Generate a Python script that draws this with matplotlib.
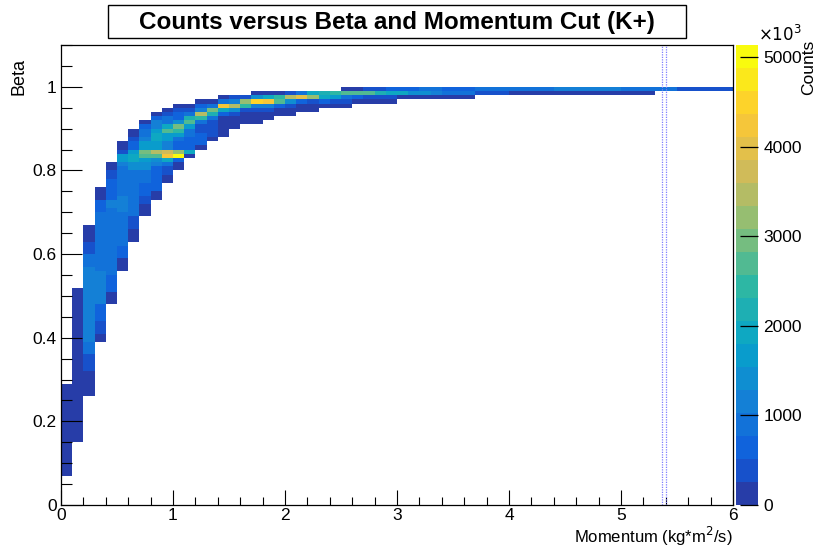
import numpy as np
import matplotlib
matplotlib.use("Agg")
import matplotlib.pyplot as plt
from matplotlib.colors import LinearSegmentedColormap, ListedColormap, BoundaryNorm
from matplotlib.ticker import MultipleLocator
from matplotlib.patches import Rectangle

plt.rcParams['font.family'] = ['Liberation Sans', 'DejaVu Sans']

########################
### histogram values ###
########################

p_edges = np.round(np.arange(0, 6.001, 0.1), 2)       # momentum bins
beta_edges = np.round(np.arange(0, 1.1001, 0.01), 3)  # beta bins

# one entry per momentum bin: (beta_lo, beta_hi, counts) runs
column_segments = [
    [(0.07, 0.29, 120)],
    [(0.15, 0.52, 160)],
    [(0.26, 0.32, 140), (0.32, 0.36, 400), (0.36, 0.39, 900), (0.39, 0.57, 1250), (0.57, 0.60, 900),
     (0.60, 0.63, 400), (0.63, 0.67, 140)],
    [(0.39, 0.41, 140), (0.41, 0.44, 400), (0.44, 0.48, 650), (0.48, 0.56, 1150), (0.56, 0.70, 900),
     (0.70, 0.73, 650), (0.73, 0.76, 140)],
    [(0.48, 0.51, 140), (0.51, 0.55, 650), (0.55, 0.71, 900), (0.71, 0.73, 1150), (0.73, 0.78, 650),
     (0.78, 0.80, 400), (0.80, 0.82, 140)],
    [(0.56, 0.59, 140), (0.59, 0.62, 650), (0.62, 0.70, 900), (0.70, 0.74, 1150), (0.74, 0.81, 900),
     (0.81, 0.82, 1150), (0.82, 0.84, 1650), (0.84, 0.85, 400), (0.85, 0.87, 140)],
    [(0.63, 0.66, 140), (0.66, 0.69, 400), (0.69, 0.80, 900), (0.80, 0.82, 1400), (0.82, 0.84, 1900),
     (0.84, 0.85, 1650), (0.85, 0.87, 650), (0.87, 0.88, 400), (0.88, 0.90, 140)],
    [(0.69, 0.72, 140), (0.72, 0.74, 400), (0.74, 0.77, 650), (0.77, 0.80, 900), (0.80, 0.82, 1400),
     (0.82, 0.83, 1650), (0.83, 0.84, 2700), (0.84, 0.85, 2950), (0.85, 0.87, 1650), (0.87, 0.88, 1150),
     (0.88, 0.90, 900), (0.90, 0.91, 650), (0.91, 0.92, 140)],
    [(0.73, 0.75, 140), (0.75, 0.81, 650), (0.81, 0.82, 1150), (0.82, 0.83, 1400), (0.83, 0.84, 2700),
     (0.84, 0.85, 3450), (0.85, 0.87, 1650), (0.87, 0.89, 1900), (0.89, 0.90, 1650), (0.90, 0.92, 1150),
     (0.92, 0.93, 650), (0.93, 0.94, 140)],
    [(0.77, 0.79, 140), (0.79, 0.81, 400), (0.81, 0.82, 900), (0.82, 0.83, 1900), (0.83, 0.84, 4250),
     (0.84, 0.85, 3700), (0.85, 0.87, 1150), (0.87, 0.89, 1650), (0.89, 0.90, 2700), (0.90, 0.91, 1900),
     (0.91, 0.93, 900), (0.93, 0.94, 400), (0.94, 0.95, 140)],
    [(0.80, 0.82, 140), (0.82, 0.83, 650), (0.83, 0.84, 5134), (0.84, 0.85, 3200), (0.85, 0.87, 650),
     (0.87, 0.88, 900), (0.88, 0.89, 1650), (0.89, 0.90, 2450), (0.90, 0.91, 2950), (0.91, 0.92, 1400),
     (0.92, 0.94, 650), (0.94, 0.95, 400), (0.95, 0.96, 140)],
    [(0.83, 0.84, 140), (0.84, 0.85, 1900), (0.85, 0.88, 650), (0.88, 0.90, 900), (0.90, 0.91, 1650),
     (0.91, 0.92, 2700), (0.92, 0.93, 2150), (0.93, 0.94, 900), (0.94, 0.95, 400), (0.95, 0.96, 140)],
    [(0.85, 0.86, 140), (0.86, 0.89, 650), (0.89, 0.91, 400), (0.91, 0.92, 900), (0.92, 0.93, 2450),
     (0.93, 0.94, 3450), (0.94, 0.95, 1150), (0.95, 0.96, 650), (0.96, 0.97, 140)],
    [(0.87, 0.88, 140), (0.88, 0.92, 400), (0.92, 0.93, 900), (0.93, 0.94, 2150), (0.94, 0.95, 2950),
     (0.95, 0.96, 900), (0.96, 0.97, 140)],
    [(0.88, 0.93, 140), (0.93, 0.94, 650), (0.94, 0.95, 1900), (0.95, 0.96, 4250), (0.96, 0.97, 900),
     (0.97, 0.98, 140)],
    [(0.90, 0.93, 140), (0.93, 0.94, 400), (0.94, 0.95, 1400), (0.95, 0.96, 3450), (0.96, 0.97, 1150),
     (0.97, 0.98, 400)],
    [(0.91, 0.94, 140), (0.94, 0.95, 400), (0.95, 0.96, 2450), (0.96, 0.97, 3200), (0.97, 0.98, 400)],
    [(0.91, 0.94, 140), (0.94, 0.95, 400), (0.95, 0.96, 1150), (0.96, 0.97, 4500), (0.97, 0.98, 1400),
     (0.98, 0.99, 140)],
    [(0.92, 0.94, 140), (0.94, 0.95, 400), (0.95, 0.96, 1150), (0.96, 0.97, 4250), (0.97, 0.98, 1900),
     (0.98, 0.99, 140)],
    [(0.93, 0.95, 140), (0.95, 0.96, 650), (0.96, 0.97, 2700), (0.97, 0.98, 2450), (0.98, 0.99, 140)],
    [(0.93, 0.95, 140), (0.95, 0.96, 400), (0.96, 0.97, 1400), (0.97, 0.98, 3450), (0.98, 0.99, 400)],
    [(0.94, 0.96, 140), (0.96, 0.97, 650), (0.97, 0.98, 3950), (0.98, 0.99, 900)],
    [(0.94, 0.96, 140), (0.96, 0.97, 400), (0.97, 0.98, 3200), (0.98, 0.99, 1900)],
    [(0.95, 0.96, 140), (0.96, 0.97, 650), (0.97, 0.98, 1900), (0.98, 0.99, 2150)],
    [(0.95, 0.96, 140), (0.96, 0.97, 400), (0.97, 0.98, 1650), (0.98, 0.99, 2450)],
    [(0.95, 0.96, 140), (0.96, 0.97, 400), (0.97, 0.98, 900), (0.98, 0.99, 2700), (0.99, 1.00, 140)],
    [(0.96, 0.97, 140), (0.97, 0.98, 650), (0.98, 0.99, 2700), (0.99, 1.00, 140)],
    [(0.96, 0.97, 140), (0.97, 0.98, 400), (0.98, 0.99, 2700), (0.99, 1.00, 400)],
    [(0.96, 0.97, 140), (0.97, 0.98, 400), (0.98, 0.99, 2150), (0.99, 1.00, 400)],
    [(0.96, 0.97, 140), (0.97, 0.98, 300), (0.98, 0.99, 1900), (0.99, 1.00, 650)],
    [(0.97, 0.98, 140), (0.98, 0.99, 1900), (0.99, 1.00, 650)],
    [(0.97, 0.98, 140), (0.98, 0.99, 1400), (0.99, 1.00, 650)],
    [(0.97, 0.98, 140), (0.98, 0.99, 1400), (0.99, 1.00, 900)],
    [(0.97, 0.98, 140), (0.98, 0.99, 1150), (0.99, 1.00, 900)],
    [(0.97, 0.98, 140), (0.98, 0.99, 900), (0.99, 1.00, 650)],
    [(0.97, 0.98, 140), (0.98, 0.99, 900), (0.99, 1.00, 650)],
    [(0.97, 0.98, 140), (0.98, 0.99, 900), (0.99, 1.00, 650)],
    [(0.98, 0.99, 400), (0.99, 1.00, 900)],
    [(0.98, 0.99, 400), (0.99, 1.00, 900)],
    [(0.98, 0.99, 400), (0.99, 1.00, 900)],
    [(0.98, 0.99, 140), (0.99, 1.00, 900)],
    [(0.98, 0.99, 140), (0.99, 1.00, 900)],
    [(0.98, 0.99, 140), (0.99, 1.00, 900)],
    [(0.98, 0.99, 140), (0.99, 1.00, 900)],
    [(0.98, 0.99, 140), (0.99, 1.00, 1150)],
    [(0.98, 0.99, 140), (0.99, 1.00, 1150)],
    [(0.98, 0.99, 140), (0.99, 1.00, 1150)],
    [(0.98, 0.99, 140), (0.99, 1.00, 1150)],
    [(0.98, 0.99, 140), (0.99, 1.00, 1150)],
    [(0.98, 0.99, 140), (0.99, 1.00, 1150)],
    [(0.98, 0.99, 140), (0.99, 1.00, 900)],
    [(0.98, 0.99, 140), (0.99, 1.00, 900)],
    [(0.98, 0.99, 140), (0.99, 1.00, 900)],
    [(0.99, 1.00, 900)],
    [(0.99, 1.00, 900)],
    [(0.99, 1.00, 400)],
    [(0.99, 1.00, 400)],
    [(0.99, 1.00, 400)],
    [(0.99, 1.00, 400)],
    [(0.99, 1.00, 400)],
]

cut_momentum = [5.365, 5.405]
cbar_ticks = [0, 1000, 2000, 3000, 4000, 5000]
n_contours = 20

#####################################
### ROOT kBird palette, 20 levels ###
#####################################

bird_stops = [0.0, 0.125, 0.25, 0.375, 0.5, 0.625, 0.75, 0.875, 1.0]
bird_red = [0.2082, 0.0592, 0.0780, 0.0232, 0.1802, 0.5301, 0.8186, 0.9956, 0.9764]
bird_green = [0.1664, 0.3599, 0.5041, 0.6419, 0.7178, 0.7492, 0.7328, 0.7862, 0.9832]
bird_blue = [0.5293, 0.8684, 0.8385, 0.7914, 0.6425, 0.4662, 0.3499, 0.1968, 0.0539]
bird = LinearSegmentedColormap.from_list(
    'bird', list(zip(bird_stops, zip(bird_red, bird_green, bird_blue))))
level_cols = [bird(min((i + 0.99) / n_contours, 1.0)) for i in range(n_contours)]
cmap = ListedColormap(level_cols)
cmap.set_over(level_cols[-1])

# expand the runs into weighted bin centres
px, py, w = [], [], []
for i, segs in enumerate(column_segments):
    for lo, hi, c in segs:
        for r in range(int(round(lo * 100)), int(round(hi * 100))):
            px.append(p_edges[i] + 0.05)
            py.append(beta_edges[r] + 0.005)
            w.append(c)

zmax = max(w)
norm = BoundaryNorm(np.linspace(0, zmax, n_contours + 1), n_contours, clip=True)

W, H = 819, 549
fig = plt.figure(figsize=(W / 100, H / 100), dpi=100)
ax = fig.add_axes([61 / W, 1 - 505 / H, (733 - 61) / W, (505 - 45) / H])

h = ax.hist2d(px, py, bins=[p_edges, beta_edges], weights=w, cmin=1, cmap=cmap, norm=norm)

for xc in cut_momentum:
    ax.axvline(xc, color='#7f7fff', lw=0.9, ls=(0, (1, 1)))

ax.set_xlim(0, 6)
ax.set_ylim(0, 1.1)
ax.xaxis.set_major_locator(MultipleLocator(1))
ax.xaxis.set_minor_locator(MultipleLocator(0.2))
ax.yaxis.set_minor_locator(MultipleLocator(0.05))
ax.set_yticks([0, 0.2, 0.4, 0.6, 0.8, 1.0])
ax.set_yticklabels(['0', '0.2', '0.4', '0.6', '0.8', '1'])
ax.tick_params(axis='x', which='major', direction='in', length=11, width=0.8, labelsize=12.5, pad=2)
ax.tick_params(axis='x', which='minor', direction='in', length=5.5, width=0.8)
ax.tick_params(axis='y', which='major', direction='in', length=15, width=0.8, labelsize=12.5, pad=3)
ax.tick_params(axis='y', which='minor', direction='in', length=8, width=0.8)
for s in ax.spines.values():
    s.set_linewidth(0.9)

fig.text(19 / W, 1 - 58 / H, 'Beta', rotation=90, ha='center', va='top', fontsize=13)
fig.text(733 / W, 1 - 543 / H, 'Momentum (kg*m$^{2}$/s)', ha='right', va='baseline', fontsize=12)

# palette
cax = fig.add_axes([736 / W, 1 - 505 / H, 22 / W, (505 - 45) / H])
cb = fig.colorbar(h[3], cax=cax, ticks=cbar_ticks)
cb.minorticks_off()
cb.outline.set_visible(False)
cb.ax.set_yticklabels([str(t) for t in cbar_ticks])
cb.ax.tick_params(direction='in', length=13, width=0.9, labelsize=12.5, pad=4, color='black')
fig.text(758 / W, 1 - 44 / H, r'$\times10^{3}$', ha='left', va='bottom', fontsize=12)
fig.text(809 / W, 1 - 40 / H, 'Counts', rotation=90, ha='center', va='top', fontsize=12.5)

# title box
fig.patches.append(Rectangle((108 / W, 1 - 38 / H), (686 - 108) / W, 33 / H, transform=fig.transFigure,
                             facecolor='white', edgecolor='black', lw=1.0))
fig.text(397 / W, 1 - 22 / H, 'Counts versus Beta and Momentum Cut (K+)', ha='center', va='center',
         fontsize=17.5, fontweight='bold')

fig.savefig('out.png', dpi=100)
